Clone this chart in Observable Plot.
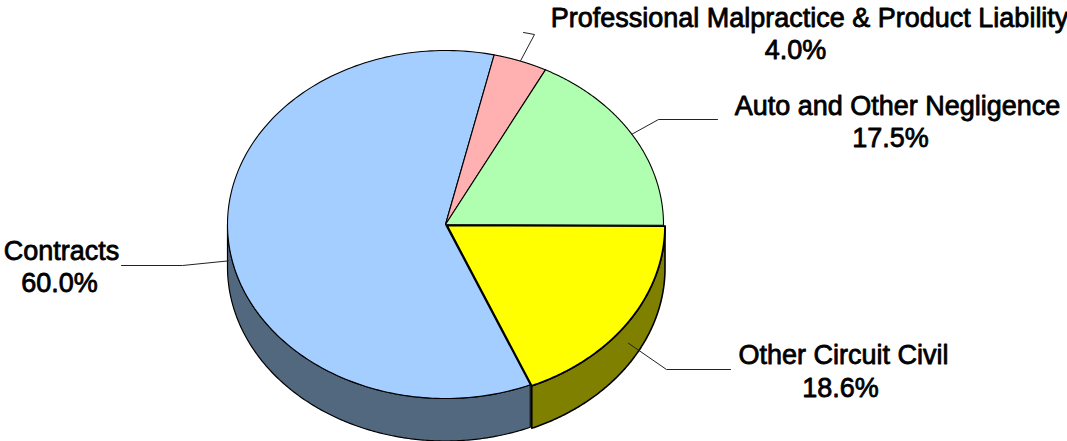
<!DOCTYPE html>
<html>
<head>
<meta charset="utf-8">
<script src="https://cdn.jsdelivr.net/npm/d3@7"></script>
<script src="https://cdn.jsdelivr.net/npm/@observablehq/plot@0.6"></script>
<style>html,body{margin:0;padding:0;background:#fff;overflow:hidden}svg{display:block}</style>
</head>
<body>
<div id="chart"></div>
<script>
// Data, in drawing order clockwise from the start angle
const categories = ["Professional Malpractice & Product Liability", "Auto and Other Negligence", "Other Circuit Civil", "Contracts"];
const shares = [4.0, 17.5, 18.6, 60.0];
const shareLabels = ["4.0%", "17.5%", "18.6%", "60.0%"];

// Styles
const topColors = ["#FFB0B0", "#B0FFB0", "#FFFF00", "#A3CEFF"];
const sideColors = [null, null, "#808000", "#52687F"];

// Layout (chart units match the 1067x441 frame)
const centre = [445, 224], radius = [218, 174], depth = 42.5, startAngle = 12.9;
const offsets = [[0, 0], [0, 0], [1.5, 1], [0, 0]];
const labelX = [809, 897, 843, 61], labelY = [17.5, 105.5, 354.5, 250.5];
const valueX = [795, 890, 840, 59], valueY = [49.5, 137.5, 387.5, 282.5];
const elbows = [[[534, 34], [523, 32]], [[658, 119], [717, 119]], [[666, 369], [730, 369]], [[182, 265], [121, 265]]];

const total = d3.sum(shares);
let acc = startAngle;
const slices = categories.map((name, i) => {
  const from = acc, to = acc + shares[i] / total * 360;
  acc = to;
  return {name, i, from, to, mid: (from + to) / 2};
});
const rad = d => d * Math.PI / 180;
const rim = (s, a, dy = 0) => ({
  x: centre[0] + offsets[s.i][0] + radius[0] * Math.sin(rad(a)),
  y: centre[1] + offsets[s.i][1] + dy - radius[1] * Math.cos(rad(a))
});
const arc = (s, a0, a1, dy = 0) => d3.range(0, 181).map(k => rim(s, a0 + (a1 - a0) * k / 180, dy));
const topPoly = s => [{x: centre[0] + offsets[s.i][0], y: centre[1] + offsets[s.i][1]}, ...arc(s, s.from, s.to), {x: centre[0] + offsets[s.i][0], y: centre[1] + offsets[s.i][1]}];
const sidePoly = s => {
  const a0 = Math.max(s.from, 90), a1 = Math.min(s.to, 270);
  return [...arc(s, a0, a1), ...arc(s, a1, a0, depth), rim(s, a0)];
};
const lineOpts = {x: "x", y: "y", curve: "linear", strokeLinejoin: "round"};

const sideMarks = slices.filter(s => sideColors[s.i]).reverse().map(s =>
  Plot.line(sidePoly(s), {...lineOpts, fill: sideColors[s.i], stroke: "#000", strokeWidth: s.i === 2 ? 1.6 : 1.2}));
const order = [3, 0, 1, 2];
const topMarks = order.map(i =>
  Plot.line(topPoly(slices[i]), {...lineOpts, fill: topColors[i], stroke: "#000", strokeWidth: i === 2 ? 1.8 : 1.1}));
const leaderMarks = slices.map(s => {
  const start = rim(s, s.mid, s.mid > 90 && s.mid < 270 ? depth / 2 : 0);
  const pts = [start, ...elbows[s.i].map(([x, y]) => ({x, y}))];
  return Plot.line(pts, {...lineOpts, stroke: "#222", strokeWidth: 1});
});
const textOpts = {
  fontFamily: "'Liberation Sans', Arial, sans-serif", fontSize: 27, fill: "#000",
  stroke: "#000", strokeWidth: 0.8, textAnchor: "middle", lineAnchor: "middle"
};

const chart = Plot.plot({
  width: 1067, height: 441,
  margin: 0,
  x: {domain: [0, 1067], range: [0, 1067], axis: null},
  y: {domain: [0, 441], range: [0, 441], axis: null},
  style: {background: "#fff"},
  marks: [
    ...sideMarks,
    ...topMarks,
    ...leaderMarks,
    Plot.text(categories, {...textOpts, x: (d, i) => labelX[i], y: (d, i) => labelY[i], text: d => d}),
    Plot.text(shareLabels, {...textOpts, x: (d, i) => valueX[i], y: (d, i) => valueY[i], text: d => d})
  ]
});
document.getElementById("chart").appendChild(chart);
</script>
</body>
</html>
